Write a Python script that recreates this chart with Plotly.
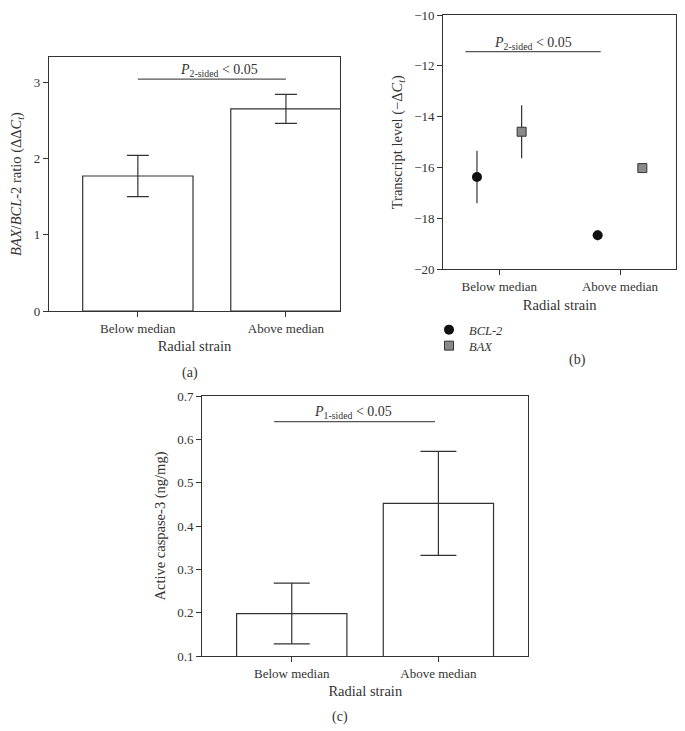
import plotly.graph_objects as go

W, H = 685, 731
OFF = 8  # default page margin around the figure
FW, FH = W - OFF, H - OFF
FONT = "Liberation Serif"
INK = "#333333"

categories = ["Below median", "Above median"]

# Panel (a): BAX/BCL-2 ratio
ratio_mean = [1.77, 2.65]
ratio_err = [0.27, 0.19]

# Panel (b): transcript levels
bcl2_mean = [-16.37, -18.66]
bcl2_err = [1.03, 0.2]
bax_mean = [-14.59, -16.02]
bax_err = [1.04, 0.1]

# Panel (c): active caspase-3
casp_mean = [0.198, 0.452]
casp_err = [0.07, 0.12]

def px_x(p):
    return (p - OFF) / FW

def px_y(p):
    return 1 - (p - OFF) / FH

fig = go.Figure()

# (a)
fig.add_trace(go.Bar(
    x=[0, 1], y=ratio_mean, width=0.745,
    marker=dict(color="white", line=dict(color=INK, width=1.2)),
    error_y=dict(type="data", array=ratio_err, color=INK, thickness=1.2, width=11),
    xaxis="x", yaxis="y", showlegend=False))

# (b)
dodge = 0.185
fig.add_trace(go.Scatter(
    x=[i - dodge for i in range(len(categories))], y=bcl2_mean, mode="markers",
    name="<i>BCL-2</i>", legend="legend",
    marker=dict(symbol="circle", size=10, color="#111111"),
    error_y=dict(type="data", array=bcl2_err, color=INK, thickness=1.2, width=0),
    xaxis="x2", yaxis="y2"))
fig.add_trace(go.Scatter(
    x=[i + dodge for i in range(len(categories))], y=bax_mean, mode="markers",
    name="<i>BAX</i>", legend="legend2",
    marker=dict(symbol="square", size=9, color="#8a8a8a", line=dict(color="#333333", width=1)),
    error_y=dict(type="data", array=bax_err, color=INK, thickness=1.2, width=0),
    xaxis="x2", yaxis="y2"))

# (c)
fig.add_trace(go.Bar(
    x=[0, 1], y=casp_mean, width=0.752,
    marker=dict(color="white", line=dict(color=INK, width=1.2)),
    error_y=dict(type="data", array=casp_err, color=INK, thickness=1.2, width=18),
    xaxis="x3", yaxis="y3", showlegend=False))

axis_common = dict(
    showline=True, linecolor=INK, linewidth=1.2, mirror=True,
    ticks="outside", ticklen=5, tickcolor=INK, tickwidth=1.2,
    showgrid=False, zeroline=False, automargin=False,
    ticklabeloverflow="allow",
    tickfont=dict(family=FONT, size=13, color=INK),
)
title_font = dict(family=FONT, size=14.5, color=INK)
ann_font = dict(family=FONT, size=14, color=INK)
legend_common = dict(xanchor="left", yanchor="top",
                     font=dict(family=FONT, size=12.5, color=INK),
                     bgcolor="rgba(0,0,0,0)", itemwidth=30)

fig.update_layout(
    width=FW, height=FH,
    margin=dict(l=0, r=0, t=0, b=0, autoexpand=False),
    paper_bgcolor="white", plot_bgcolor="white",
    font=dict(family=FONT, size=13, color=INK),
    showlegend=True,
    legend=dict(legend_common, x=px_x(429), y=px_y(315)),
    legend2=dict(legend_common, x=px_x(429), y=px_y(331)),
    xaxis=dict(axis_common, domain=[px_x(49), px_x(340)], range=[-0.6, 1.365],
               tickvals=[0, 1], ticktext=categories,
               title=dict(text="Radial strain", font=title_font, standoff=6), anchor="y"),
    yaxis=dict(axis_common, domain=[px_y(311), px_y(57)], range=[0, 3.33],
               tickvals=[0, 1, 2, 3],
               title=dict(text="<i>BAX</i>/<i>BCL</i>-2 ratio (ΔΔ<i>C</i><sub><i>t</i></sub>)",
                          font=title_font, standoff=10), anchor="x"),
    xaxis2=dict(axis_common, domain=[px_x(443.3), px_x(676)], range=[-0.464, 1.464],
                tickvals=[0, 1], ticktext=categories,
                title=dict(text="Radial strain", font=title_font, standoff=6), anchor="y2"),
    yaxis2=dict(axis_common, domain=[px_y(269.3), px_y(15)], range=[-20, -10],
                tickvals=[-20, -18, -16, -14, -12, -10],
                ticktext=["−20", "−18", "−16", "−14", "−12", "−10"],
                title=dict(text="Transcript level (−Δ<i>C</i><sub><i>t</i></sub>)",
                           font=title_font, standoff=8), anchor="x2"),
    xaxis3=dict(axis_common, domain=[px_x(202.3), px_x(528.3)], range=[-0.61, 1.613],
                tickvals=[0, 1], ticktext=categories,
                title=dict(text="Radial strain", font=title_font, standoff=6), anchor="y3"),
    yaxis3=dict(axis_common, domain=[px_y(656), px_y(396)], range=[0.1, 0.7],
                tickvals=[0.1, 0.2, 0.3, 0.4, 0.5, 0.6, 0.7],
                tickformat=".1f",
                title=dict(text="Active caspase-3 (ng/mg)", font=title_font, standoff=8),
                anchor="x3"),
)

# significance brackets
sig_line = dict(type="line", line=dict(color="#555555", width=1.2))
fig.add_shape(sig_line, xref="x", yref="y", x0=0, x1=1, y0=3.04, y1=3.04)
fig.add_shape(sig_line, xref="x2", yref="y2", x0=-0.28, x1=0.84, y0=-11.44, y1=-11.44)
fig.add_shape(sig_line, xref="x3", yref="y3", x0=-0.12, x1=0.977, y0=0.641, y1=0.641)

fig.add_annotation(xref="x", yref="y", x=0.55, y=3.04, yshift=9, showarrow=False,
                   text="<i>P</i><sub>2-sided</sub> &lt; 0.05", font=ann_font)
fig.add_annotation(xref="x2", yref="y2", x=0.28, y=-11.44, yshift=8, showarrow=False,
                   text="<i>P</i><sub>2-sided</sub> &lt; 0.05", font=ann_font)
fig.add_annotation(xref="x3", yref="y3", x=0.42, y=0.641, yshift=9, showarrow=False,
                   text="<i>P</i><sub>1-sided</sub> &lt; 0.05", font=ann_font)

# panel labels
for lab, xp, yp in [("(a)", 190, 373), ("(b)", 577, 360), ("(c)", 340, 717)]:
    fig.add_annotation(xref="paper", yref="paper", x=px_x(xp), y=px_y(yp),
                       showarrow=False, text=lab, font=ann_font,
                       xanchor="center", yanchor="middle")

fig.write_html("out.html")
